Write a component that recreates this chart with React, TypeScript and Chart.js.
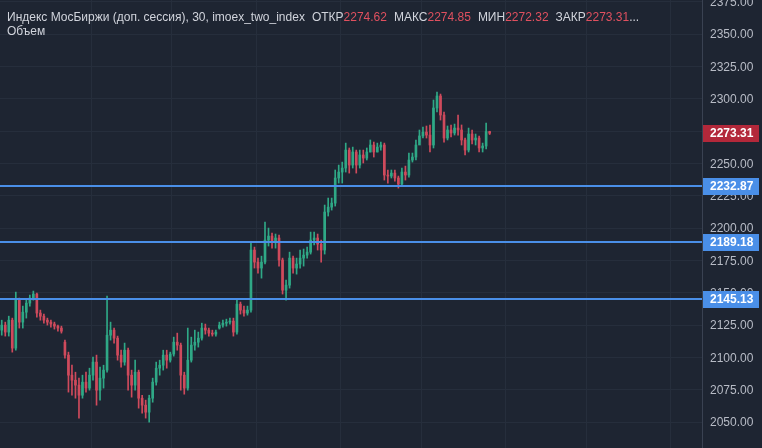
import React, { useEffect, useRef } from "react";
import { Chart, registerables } from "chart.js";
Chart.register(...registerables);

const opens = [2121.1,2125.0,2119.6,2128.8,2107.2,2144.3,2127.3,2135.0,2142.0,2145.9,2149.0,2134.3,2131.9,2128.8,2127.3,2125.8,2124.2,2122.7,2111.8,2101.8,2086.3,2082.4,2078.6,2070.8,2080.9,2076.3,2086.3,2096.4,2074.7,2084.0,2090.2,2117.2,2121.1,2114.9,2101.8,2096.4,2105.6,2086.3,2078.6,2088.6,2068.5,2063.1,2057.7,2068.5,2080.9,2091.7,2094.0,2101.8,2097.9,2102.6,2111.8,2109.5,2086.3,2076.3,2097.9,2109.5,2111.8,2114.9,2122.7,2121.1,2118.8,2118.0,2122.7,2125.0,2126.5,2127.3,2128.1,2119.6,2141.2,2136.6,2134.3,2136.6,2183.0,2173.7,2169.1,2173.7,2190.7,2193.8,2189.2,2192.3,2175.3,2152.0,2155.9,2176.8,2169.1,2172.2,2176.8,2179.1,2181.4,2190.7,2192.3,2187.6,2183.0,2212.4,2216.2,2219.3,2238.7,2243.3,2246.4,2260.3,2248.7,2258.8,2248.7,2256.5,2254.1,2258.8,2264.2,2258.8,2262.6,2264.2,2241.0,2240.2,2242.5,2238.7,2234.0,2243.3,2241.0,2252.6,2254.9,2264.2,2271.2,2274.2,2271.9,2264.2,2292.8,2302.1,2287.4,2269.6,2275.8,2273.5,2277.3,2275.8,2268.1,2260.3,2272.7,2268.1,2269.6,2261.9,2263.4,2274.62];
const highs = [2128.8,2127.3,2131.9,2130.4,2150.5,2145.9,2139.7,2144.3,2148.2,2151.3,2149.7,2136.6,2133.5,2130.4,2128.8,2127.3,2125.0,2124.2,2113.4,2104.1,2094.0,2088.6,2084.0,2086.3,2088.6,2091.7,2100.2,2101.8,2092.5,2094.0,2147.4,2127.3,2122.7,2116.5,2105.6,2111.1,2107.2,2090.2,2097.9,2090.2,2070.8,2067.0,2070.8,2084.0,2096.4,2097.9,2105.6,2105.6,2104.1,2115.7,2118.8,2111.1,2088.6,2122.7,2115.7,2121.1,2119.6,2126.5,2125.8,2122.7,2121.1,2121.1,2127.3,2128.8,2129.6,2130.4,2130.4,2145.1,2142.8,2139.7,2139.7,2189.2,2185.3,2176.8,2178.3,2204.6,2200.0,2196.1,2195.4,2194.6,2176.8,2159.8,2181.4,2178.3,2176.8,2183.0,2183.8,2185.3,2196.9,2196.9,2195.4,2190.7,2217.8,2223.2,2223.2,2244.9,2248.7,2251.0,2265.7,2261.9,2262.6,2260.3,2260.3,2260.3,2261.9,2268.1,2266.5,2265.7,2266.5,2265.7,2244.9,2244.9,2244.9,2240.2,2246.4,2247.9,2258.0,2258.0,2268.1,2275.8,2278.1,2278.9,2279.7,2299.0,2305.2,2303.6,2289.7,2278.9,2279.7,2280.4,2287.4,2279.7,2269.6,2277.3,2275.8,2272.7,2271.2,2265.7,2281.2,2274.85];
const lows = [2117.2,2116.5,2116.5,2104.1,2105.6,2122.7,2122.7,2130.4,2139.7,2144.3,2131.2,2128.8,2126.5,2125.0,2123.4,2121.9,2120.3,2118.8,2099.5,2073.2,2070.8,2068.5,2053.1,2068.5,2073.2,2074.7,2082.4,2063.1,2067.0,2076.3,2088.6,2113.4,2111.1,2097.9,2092.5,2094.0,2074.7,2069.3,2074.7,2060.8,2056.9,2053.1,2050.0,2065.4,2078.6,2086.3,2090.2,2091.7,2096.4,2101.0,2105.6,2074.7,2071.6,2074.7,2096.4,2105.6,2108.0,2113.4,2118.0,2116.5,2116.5,2116.5,2121.9,2123.4,2124.2,2125.8,2116.5,2118.0,2133.5,2131.9,2132.7,2135.0,2169.1,2165.2,2161.3,2172.2,2186.1,2184.5,2184.5,2170.6,2149.0,2144.3,2153.6,2165.2,2164.4,2169.1,2170.6,2176.8,2179.9,2186.9,2183.0,2173.7,2179.9,2209.3,2213.9,2217.0,2234.8,2234.8,2243.3,2242.5,2246.4,2242.5,2246.4,2250.3,2252.6,2258.8,2254.9,2258.8,2260.3,2237.1,2234.8,2238.7,2236.3,2230.9,2232.5,2237.1,2239.4,2251.0,2252.6,2266.5,2269.6,2269.6,2258.8,2261.9,2289.7,2283.5,2266.5,2268.1,2270.4,2271.9,2271.9,2264.2,2256.5,2258.8,2265.0,2264.2,2258.8,2258.8,2261.1,2272.32];
const closes = [2125.0,2119.6,2128.8,2107.2,2144.3,2127.3,2135.0,2142.0,2145.9,2149.0,2134.3,2131.9,2128.8,2127.3,2125.8,2124.2,2122.7,2120.3,2101.8,2086.3,2082.4,2078.6,2070.8,2080.9,2076.3,2086.3,2096.4,2074.7,2084.0,2090.2,2117.2,2121.1,2114.9,2101.8,2096.4,2105.6,2086.3,2078.6,2088.6,2068.5,2063.1,2057.7,2068.5,2080.9,2091.7,2094.0,2101.8,2097.9,2102.6,2111.8,2109.5,2086.3,2076.3,2097.9,2109.5,2111.8,2114.9,2122.7,2121.1,2118.8,2118.0,2119.6,2125.0,2126.5,2127.3,2128.1,2119.6,2141.2,2136.6,2134.3,2136.6,2183.0,2173.7,2169.1,2173.7,2190.7,2193.8,2189.2,2192.3,2175.3,2152.0,2155.9,2176.8,2169.1,2172.2,2176.8,2179.1,2181.4,2190.7,2192.3,2187.6,2183.0,2212.4,2216.2,2219.3,2238.7,2243.3,2246.4,2260.3,2248.7,2258.8,2248.7,2256.5,2254.1,2258.8,2264.2,2258.8,2262.6,2264.2,2241.0,2240.2,2242.5,2238.7,2234.0,2243.3,2241.0,2252.6,2254.9,2264.2,2271.2,2274.2,2271.9,2264.2,2292.8,2302.1,2287.4,2269.6,2275.8,2273.5,2277.3,2275.8,2268.1,2260.3,2272.7,2268.1,2269.6,2261.9,2263.4,2274.6,2273.31];

const levels = [2232.87, 2189.18, 2145.13];
const yTicks = [2050, 2075, 2100, 2125, 2150, 2175, 2200, 2225, 2250, 2275, 2300, 2325, 2350, 2375];
const totalSlots = 200;
const sessionSlots = [26, 49, 73, 97, 120, 144, 167, 191];

const titleText = "Индекс МосБиржи (доп. сессия), 30, imoex_two_index";
const volumeText = "Объем";

const BG = "#1e2532";
const GRID = "#262e3c";
const UP = "#2fa886";
const DOWN = "#cf4a5c";
const LEVEL = "#4a8fe8";
const TEXT = "#d1d4dc";
const AXIS_TEXT = "#b8bcc6";
const FONT = '"Liberation Sans", Arial, sans-serif';

export default function App() {
  const ref = useRef<HTMLCanvasElement | null>(null);

  useEffect(() => {
    document.body.style.margin = "0";
    const canvas = ref.current!;
    const n = closes.length;
    const labels = Array.from({ length: totalSlots }, (_, i) => String(i));
    const wick: any[] = [];
    const body: any[] = [];
    const colors: string[] = [];
    for (let i = 0; i < totalSlots; i++) {
      if (i < n) {
        wick.push([lows[i], highs[i]]);
        body.push([Math.min(opens[i], closes[i]), Math.max(opens[i], closes[i])]);
        colors.push(closes[i] >= opens[i] ? UP : DOWN);
      } else {
        wick.push(null);
        body.push(null);
        colors.push(UP);
      }
    }
    const lastUp = closes[n - 1] >= opens[n - 1];

    const overlay = {
      id: "overlay",
      afterDatasetsDraw(chart: any) {
        const { ctx, chartArea, scales } = chart;
        ctx.save();
        ctx.strokeStyle = LEVEL;
        ctx.lineWidth = 2;
        levels.forEach((v) => {
          const y = Math.round(scales.y.getPixelForValue(v));
          ctx.beginPath();
          ctx.moveTo(chartArea.left, y);
          ctx.lineTo(chartArea.right, y);
          ctx.stroke();
        });
        ctx.restore();
      },
      afterDraw(chart: any) {
        const { ctx, chartArea, scales } = chart;
        ctx.save();
        ctx.textBaseline = "middle";
        ctx.textAlign = "left";
        ctx.font = "12px " + FONT;
        ctx.fillStyle = AXIS_TEXT;
        yTicks.forEach((t) => {
          const y = scales.y.getPixelForValue(t);
          ctx.fillText(t.toFixed(2), chartArea.right + 8, y + 1);
        });
        ctx.font = "bold 12px " + FONT;
        const drawTag = (v: number, fill: string) => {
          const y = Math.round(scales.y.getPixelForValue(v));
          ctx.fillStyle = fill;
          ctx.fillRect(chartArea.right + 1, y - 8, 56, 17);
          ctx.fillStyle = "#ffffff";
          ctx.fillText(v.toFixed(2), chartArea.right + 8, y + 1);
        };
        levels.forEach((v) => drawTag(v, LEVEL));
        drawTag(closes[n - 1], lastUp ? "#1f8f6f" : "#b3283a");
        ctx.restore();
      },
    };

    const chart = new Chart(canvas, {
      type: "bar",
      data: {
        labels,
        datasets: [
          {
            data: wick,
            backgroundColor: colors,
            barThickness: 1,
            grouped: false,
            order: 2,
          } as any,
          {
            data: body,
            backgroundColor: colors,
            barThickness: 2,
            minBarLength: 1,
            grouped: false,
            order: 1,
          } as any,
        ],
      },
      options: {
        animation: false,
        responsive: false,
        devicePixelRatio: 1,
        layout: { padding: 0 },
        plugins: { legend: { display: false }, tooltip: { enabled: false } },
        scales: {
          x: {
            ticks: { display: false, autoSkip: false },
            grid: {
              drawTicks: false,
              color: (c: any) => (sessionSlots.includes(c.index) ? GRID : "rgba(0,0,0,0)"),
            },
            border: { display: false },
            afterFit: (s: any) => {
              s.height = 0;
            },
          },
          y: {
            position: "right",
            min: 2030,
            max: 2376.3,
            afterBuildTicks: (axis: any) => {
              axis.ticks = yTicks.map((v) => ({ value: v }));
            },
            afterFit: (s: any) => {
              s.width = 60;
            },
            ticks: { display: false },
            grid: { color: GRID, drawTicks: false },
            border: { display: true, color: "#3a4252" },
          },
        },
      } as any,
      plugins: [overlay],
    });
    return () => chart.destroy();
  }, []);

  const last = closes.length - 1;
  const valColor = closes[last] >= opens[last] ? UP : "#e0505f";
  const v = (x: number) => <span style={{ color: valColor }}>{x.toFixed(2)}</span>;

  return (
    <div style={{ position: "fixed", left: 0, top: 0, width: 762, height: 448, background: BG, overflow: "hidden" }}>
      <canvas ref={ref} width={762} height={448} style={{ display: "block" }} />
      <div
        style={{
          position: "absolute",
          left: 7,
          top: 10,
          font: "12px " + FONT,
          color: TEXT,
          whiteSpace: "nowrap",
          lineHeight: "14px",
        }}
      >
        <div>
          {titleText}
          <span style={{ marginLeft: 7 }}>ОТКР</span>
          {v(opens[last])}
          <span style={{ marginLeft: 7 }}>МАКС</span>
          {v(highs[last])}
          <span style={{ marginLeft: 7 }}>МИН</span>
          {v(lows[last])}
          <span style={{ marginLeft: 7 }}>ЗАКР</span>
          {v(closes[last])}
          <span>...</span>
        </div>
        <div>{volumeText}</div>
      </div>
    </div>
  );
}
